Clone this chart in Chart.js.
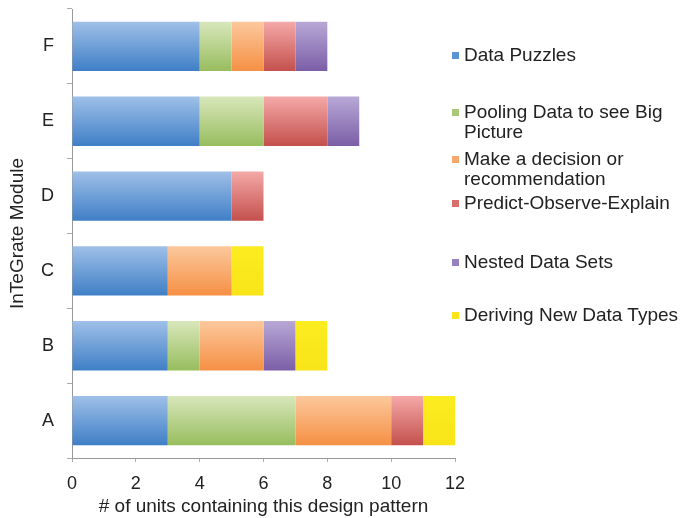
<!DOCTYPE html>
<html>
<head>
<meta charset="utf-8">
<script src="https://cdn.jsdelivr.net/npm/chart.js@4.4.1/dist/chart.umd.min.js"></script>
<style>
  html, body { margin: 0; padding: 0; background: #fff; }
  #wrap { position: relative; width: 683px; height: 518px; font-family: "Liberation Sans", Arial, sans-serif; }
  #c { position: absolute; left: 0; top: 0; }
  .lg { position: absolute; left: 452px; width: 231px; font-size: 19px; line-height: 20px; color: #222; }
  .lg .sw { position: absolute; left: 0; top: 7px; width: 7px; height: 7px; }
  .lg .tx { margin-left: 12px; width: 222px; }
</style>
</head>
<body>
<div id="wrap">
  <canvas id="c" width="683" height="518"></canvas>
</div>
<script>
const categories = ['F', 'E', 'D', 'C', 'B', 'A'];
const seriesNames = ['Data Puzzles', 'Pooling Data to see Big Picture', 'Make a decision or recommendation', 'Predict-Observe-Explain', 'Nested Data Sets', 'Deriving New Data Types'];
const dataPuzzles   = [4, 4, 5, 3, 3, 3];
const poolingData   = [1, 2, 0, 0, 1, 4];
const makeDecision  = [1, 0, 0, 2, 2, 3];
const predictObserve= [1, 2, 1, 0, 0, 1];
const nestedData    = [1, 1, 0, 0, 1, 0];
const derivingTypes = [0, 0, 0, 1, 1, 1];
const xTicks = [0, 2, 4, 6, 8, 10, 12];

const topColors = ['#9fc0e8', '#d8e7bb', '#fcc89c', '#f4a9a8', '#b8a8d6', '#fbec20'];
const botColors = ['#3f7fc6', '#98bd5e', '#f59044', '#c4504c', '#7b5ea7', '#f8e419'];
const midColors = ['#5b93d3', '#a9c978', '#f8a86a', '#d86f6d', '#9682c0', '#f8e419'];
const legendTops = [45, 102, 149, 193, 252, 305];

const BAR_FRAC = 0.66;
function gradFor(i) {
  return function (ctx) {
    const chart = ctx.chart;
    const ys = chart.scales && chart.scales.y;
    if (!ys || ctx.type !== 'data' || !ys.height) return midColors[i];
    const c = ys.getPixelForValue(ctx.dataIndex);
    const h = (ys.height / categories.length) * BAR_FRAC;
    const g = chart.ctx.createLinearGradient(0, c - h / 2, 0, c + h / 2);
    g.addColorStop(0, topColors[i]);
    g.addColorStop(1, botColors[i]);
    return g;
  };
}

const seriesData = [dataPuzzles, poolingData, makeDecision, predictObserve, nestedData, derivingTypes];
const datasets = seriesData.map((d, i) => ({
  label: seriesNames[i],
  data: d,
  backgroundColor: gradFor(i),
  borderWidth: 0,
  categoryPercentage: 1,
  barPercentage: BAR_FRAC
}));

const FONT = '"Liberation Sans", Arial, sans-serif';
new Chart(document.getElementById('c'), {
  type: 'bar',
  data: { labels: categories, datasets },
  options: {
    indexAxis: 'y',
    responsive: false,
    animation: false,
    layout: { padding: { top: 9, right: 228, left: 0, bottom: 0 } },
    plugins: { legend: { display: false }, tooltip: { enabled: false } },
    scales: {
      x: {
        stacked: true, min: 0, max: 12,
        afterFit: s => { s.height = 60; },
        afterBuildTicks: s => { s.ticks = xTicks.map(v => ({ value: v })); },
        ticks: { font: { family: FONT, size: 18 }, color: '#222', padding: 11, maxRotation: 0 },
        grid: { display: true, drawOnChartArea: false, tickLength: 4, color: '#aaa' },
        border: { display: true, color: '#999', width: 1 },
        title: { display: true, text: '# of units containing this design pattern', font: { family: FONT, size: 19 }, color: '#222', padding: { top: 0, bottom: 0 } }
      },
      y: {
        stacked: true,
        afterFit: s => { s.width = 72; s.paddingTop = 0; s.paddingBottom = 0; },
        ticks: { font: { family: FONT, size: 18 }, color: '#222', padding: 13 },
        grid: { display: true, drawOnChartArea: false, tickLength: 5, color: '#aaa', offset: true },
        border: { display: true, color: '#999', width: 1 },
        title: { display: true, text: 'InTeGrate Module', font: { family: FONT, size: 19 }, color: '#222', padding: { top: 6, bottom: 0 } }
      }
    }
  }
});

const wrap = document.getElementById('wrap');
seriesNames.forEach((name, i) => {
  const item = document.createElement('div');
  item.className = 'lg';
  item.style.top = legendTops[i] + 'px';
  const sw = document.createElement('div');
  sw.className = 'sw';
  sw.style.background = midColors[i];
  const tx = document.createElement('div');
  tx.className = 'tx';
  tx.textContent = name;
  item.appendChild(sw);
  item.appendChild(tx);
  wrap.appendChild(item);
});
</script>
</body>
</html>
